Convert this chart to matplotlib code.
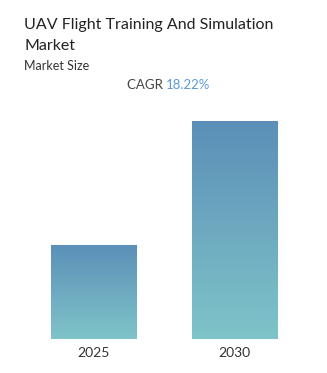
import numpy as np
import matplotlib.pyplot as plt
from matplotlib.colors import LinearSegmentedColormap

plt.rcParams['font.family'] = ['Lato', 'DejaVu Sans']

years = ['2025', '2030']
values = [1.0, 2.31]   # relative market size, CAGR 18.22%
cagr = '18.22%'

fig = plt.figure(figsize=(3.27, 3.73), dpi=100)
ax = fig.add_axes([0, 1 - 339 / 373, 1, (339 - 121) / 373])

x = np.arange(len(years))
bars = ax.bar(x, values, width=0.603, color='none', edgecolor='#a9d6dc', linewidth=0.8)

# vertical gradient inside each bar
cmap = LinearSegmentedColormap.from_list('g', ['#7fc4c8', '#5b8fb8'])
grad = np.linspace(0, 1, 256).reshape(-1, 1)
for b in bars:
    x0, y0 = b.get_x(), b.get_y()
    w, h = b.get_width(), b.get_height()
    im = ax.imshow(grad, cmap=cmap, origin='lower', aspect='auto',
                   extent=(x0, x0 + w, y0, y0 + h), zorder=1)
    im.set_clip_path(b)

ax.set_xlim(-0.663, 1.656)
ax.set_ylim(0, max(values))
ax.set_xticks(x)
ax.set_xticklabels(years, fontsize=10, color='#333333')
ax.tick_params(axis='x', length=0, pad=6)
ax.set_yticks([])
for s in ax.spines.values():
    s.set_visible(False)

fig.text(24 / 327, 1 - 29 / 373, 'UAV Flight Training And Simulation', fontsize=11.5,
         color='#222222', va='baseline', ha='left')
fig.text(24 / 327, 1 - 50 / 373, 'Market', fontsize=11.5, color='#222222',
         va='baseline', ha='left')
fig.text(24 / 327, 1 - 70 / 373, 'Market Size', fontsize=9, color='#333333',
         va='baseline', ha='left')
fig.text(166 / 327, 1 - 89 / 373, 'CAGR ', fontsize=9.5, color='#444444',
         va='baseline', ha='right')
fig.text(166 / 327, 1 - 89 / 373, cagr, fontsize=9.5, color='#5b9bd5',
         va='baseline', ha='left')

fig.savefig('out.png', dpi=100)
